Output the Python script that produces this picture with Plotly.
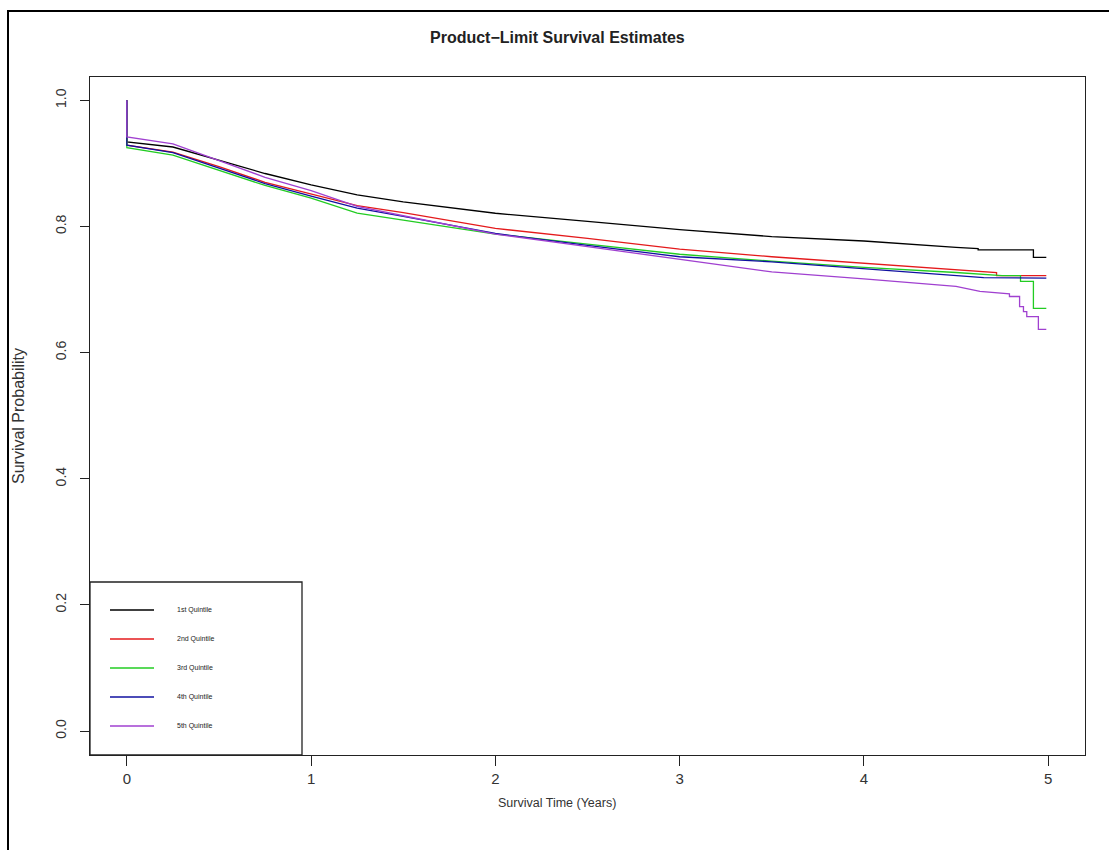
import plotly.graph_objects as go

# ---- data ----
quintile_names = ["1st Quintile", "2nd Quintile", "3rd Quintile", "4th Quintile", "5th Quintile"]
quintile_colors = ["#000000", "#e41a1c", "#22cc22", "#1010a0", "#a040d0"]

t_q1 = [0, 0, 0.25, 0.5, 0.75, 1.0, 1.25, 1.5, 2.0, 2.5, 3.0, 3.5, 4.0, 4.5, 4.62, 4.62, 4.92, 4.92, 4.99]
s_q1 = [1.0, 0.934, 0.926, 0.905, 0.884, 0.866, 0.850, 0.839, 0.821, 0.808, 0.795, 0.784, 0.777, 0.767, 0.765, 0.763, 0.763, 0.751, 0.751]

t_q2 = [0, 0, 0.25, 0.5, 0.75, 1.0, 1.25, 1.5, 2.0, 2.5, 3.0, 3.5, 4.0, 4.5, 4.72, 4.72, 4.99]
s_q2 = [1.0, 0.929, 0.918, 0.895, 0.870, 0.851, 0.833, 0.822, 0.797, 0.781, 0.764, 0.752, 0.742, 0.731, 0.727, 0.722, 0.722]

t_q3 = [0, 0, 0.25, 0.5, 0.75, 1.0, 1.25, 1.5, 2.0, 2.5, 3.0, 3.5, 4.0, 4.5, 4.75, 4.85, 4.85, 4.92, 4.92, 4.99]
s_q3 = [1.0, 0.925, 0.913, 0.889, 0.865, 0.845, 0.821, 0.810, 0.788, 0.772, 0.756, 0.745, 0.735, 0.727, 0.722, 0.722, 0.713, 0.713, 0.670, 0.670]

t_q4 = [0, 0, 0.25, 0.5, 0.75, 1.0, 1.25, 1.5, 2.0, 2.5, 3.0, 3.5, 4.0, 4.5, 4.65, 4.99]
s_q4 = [1.0, 0.929, 0.917, 0.893, 0.868, 0.848, 0.829, 0.816, 0.789, 0.770, 0.752, 0.744, 0.733, 0.723, 0.719, 0.718]

t_q5 = [0, 0, 0.25, 0.5, 0.75, 1.0, 1.25, 1.5, 2.0, 2.5, 3.0, 3.5, 4.0, 4.5, 4.63, 4.79, 4.79, 4.845, 4.845,
        4.866, 4.866, 4.884, 4.884, 4.947, 4.947, 4.99]
s_q5 = [1.0, 0.942, 0.931, 0.905, 0.878, 0.857, 0.832, 0.817, 0.788, 0.768, 0.748, 0.728, 0.717, 0.705, 0.697, 0.693, 0.689, 0.689, 0.673,
        0.673, 0.665, 0.665, 0.657, 0.657, 0.637, 0.637]

x_ticks = [0, 1, 2, 3, 4, 5]
y_ticks = [0.0, 0.2, 0.4, 0.6, 0.8, 1.0]
y_tick_text = ["0.0", "0.2", "0.4", "0.6", "0.8", "1.0"]

series_t = [t_q1, t_q2, t_q3, t_q4, t_q5]
series_s = [s_q1, s_q2, s_q3, s_q4, s_q5]

FONT = "Liberation Sans, Arial, sans-serif"

fig = go.Figure()
for name, col, t, s in zip(quintile_names, quintile_colors, series_t, series_s):
    fig.add_trace(go.Scatter(x=t, y=s, mode="lines", name=name,
                             line=dict(color=col, width=1.3), showlegend=False))

# layout geometry (pixels)
W, H = 1109, 850
L, R, T, B = 90, 1085, 77, 755
pw, ph = R - L, B - T

def px(xp):
    return (xp - L) / pw

def py(yp):
    return (B - yp) / ph

fig.update_layout(
    width=W, height=H,
    margin=dict(l=L, r=W - R, t=T, b=H - B, pad=0),
    paper_bgcolor="white", plot_bgcolor="white",
    font=dict(family=FONT, color="#222222", size=13),
    xaxis=dict(range=[-0.2, 5.2], tickvals=x_ticks, ticks="outside", ticklen=10,
               tickcolor="#222222", showgrid=False, zeroline=False, showline=True,
               linecolor="#222222", linewidth=1.3, mirror=True,
               tickfont=dict(size=15, family=FONT, color="#333333"), ticklabelstandoff=0),
    yaxis=dict(range=[-0.038, 1.037], tickvals=y_ticks, ticktext=y_tick_text, ticks="outside",
               ticklen=9, tickcolor="#222222", showgrid=False, zeroline=False, showline=True,
               linecolor="#222222", linewidth=1.3, mirror=True, tickangle=-90,
               tickfont=dict(size=14, family=FONT, color="#333333"), ticklabelstandoff=8),
)

# outer frame
fig.add_shape(type="rect", xref="paper", yref="paper",
              x0=px(8), x1=px(1120), y0=py(870), y1=py(11),
              line=dict(color="black", width=2), fillcolor="rgba(0,0,0,0)", layer="above")

# title and axis titles
fig.add_annotation(text="<b>Product\u2212Limit Survival Estimates</b>", xref="paper", yref="paper",
                   x=px(557), y=py(37), xanchor="center", yanchor="middle", showarrow=False,
                   font=dict(size=16, family=FONT, color="#222222"))
fig.add_annotation(text="Survival Time (Years)", xref="paper", yref="paper",
                   x=px(557), y=py(803), xanchor="center", yanchor="middle", showarrow=False,
                   font=dict(size=12.5, family=FONT, color="#333333"))
fig.add_annotation(text="Survival Probability", xref="paper", yref="paper", textangle=-90,
                   x=px(18), y=py(416), xanchor="center", yanchor="middle", showarrow=False,
                   font=dict(size=16, family=FONT, color="#333333"))

# legend box
fig.add_shape(type="rect", xref="paper", yref="paper", x0=px(90), x1=px(302), y0=py(755), y1=py(582),
              line=dict(color="#222222", width=1.3), fillcolor="white", layer="below")
legend_y = [610, 639, 668, 697, 726]
for name, col, ly in zip(quintile_names, quintile_colors, legend_y):
    fig.add_shape(type="line", xref="paper", yref="paper", x0=px(110), x1=px(154), y0=py(ly), y1=py(ly),
                  line=dict(color=col, width=1.3))
    fig.add_annotation(text=name, xref="paper", yref="paper", x=px(175), y=py(ly),
                       xanchor="left", yanchor="middle", showarrow=False,
                       font=dict(size=7, family=FONT, color="#222222"))

fig.write_html("out.html", config={"displayModeBar": False},
               post_script="document.body.style.margin='0';")
